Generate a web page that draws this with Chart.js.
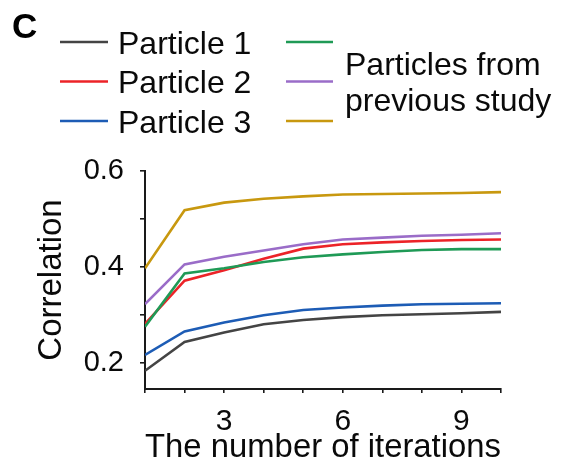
<!DOCTYPE html>
<html>
<head>
<meta charset="utf-8">
<script src="https://cdn.jsdelivr.net/npm/chart.js@4/dist/chart.umd.min.js"></script>
<style>
  html, body { margin: 0; padding: 0; background: #ffffff; }
  canvas { display: block; }
</style>
</head>
<body>
<canvas id="c" width="575" height="464"></canvas>
<script>
// ---- data ----
const iterations = [1, 2, 3, 4, 5, 6, 7, 8, 9, 10];
const particle1 = [0.183, 0.243, 0.263, 0.280, 0.289, 0.295, 0.299, 0.301, 0.303, 0.306];
const particle2 = [0.281, 0.371, 0.393, 0.417, 0.438, 0.447, 0.451, 0.454, 0.456, 0.457];
const particle3 = [0.216, 0.265, 0.284, 0.299, 0.310, 0.315, 0.319, 0.322, 0.323, 0.324];
const previousGreen  = [0.275, 0.386, 0.397, 0.410, 0.420, 0.426, 0.431, 0.435, 0.437, 0.437];
const previousPurple = [0.322, 0.405, 0.421, 0.434, 0.447, 0.457, 0.461, 0.465, 0.467, 0.470];
const previousGold   = [0.397, 0.518, 0.534, 0.542, 0.547, 0.551, 0.552, 0.553, 0.554, 0.556];

const xTickValues = [1, 2, 3, 4, 5, 6, 7, 8, 9, 10];
const xTickLabels = [3, 6, 9];
const yTickValues = [0.2, 0.3, 0.4, 0.5, 0.6];
const yTickLabels = [0.2, 0.4, 0.6];

const seriesNames = ['Particle 1', 'Particle 2', 'Particle 3'];
const previousLabel = ['Particles from', 'previous study'];
const panelLetter = 'C';
const xTitle = 'The number of iterations';
const yTitle = 'Correlation';

const colors = {
  p1: '#444444', p2: '#ec2328', p3: '#1d5cb5',
  green: '#1f9a56', purple: '#9a6cc8', gold: '#c8980f'
};

const FONT = "'Liberation Sans', Arial, Helvetica, sans-serif";
const INK = '#0a0a0a';

function pts(arr) { return iterations.map((x, i) => ({ x: x, y: arr[i] })); }

const datasets = [
  { label: 'gold', data: pts(previousGold), borderColor: colors.gold },
  { label: 'purple', data: pts(previousPurple), borderColor: colors.purple },
  { label: 'green', data: pts(previousGreen), borderColor: colors.green },
  { label: seriesNames[1], data: pts(particle2), borderColor: colors.p2 },
  { label: seriesNames[2], data: pts(particle3), borderColor: colors.p3 },
  { label: seriesNames[0], data: pts(particle1), borderColor: colors.p1 }
].map(d => Object.assign(d, { borderWidth: 2.6, pointRadius: 0, tension: 0, fill: false }));

const legendPlugin = {
  id: 'figLegend',
  afterDraw(chart) {
    const ctx = chart.ctx;
    ctx.save();
    // panel letter
    ctx.fillStyle = '#000';
    ctx.font = "bold 35px " + FONT;
    ctx.textBaseline = 'alphabetic';
    ctx.textAlign = 'left';
    ctx.fillText(panelLetter, 12, 38);

    const rowBase = [53.5, 93, 132.5];
    const leftColors = [colors.p1, colors.p2, colors.p3];
    const rightColors = [colors.green, colors.purple, colors.gold];
    ctx.lineWidth = 2.6;
    for (let i = 0; i < 3; i++) {
      const ly = rowBase[i] - 11.5;
      ctx.strokeStyle = leftColors[i];
      ctx.beginPath(); ctx.moveTo(60, ly); ctx.lineTo(108, ly); ctx.stroke();
      ctx.strokeStyle = rightColors[i];
      ctx.beginPath(); ctx.moveTo(286, ly); ctx.lineTo(333, ly); ctx.stroke();
    }
    ctx.fillStyle = INK;
    ctx.font = "32px " + FONT;
    for (let i = 0; i < 3; i++) {
      ctx.fillText(seriesNames[i], 118, rowBase[i]);
    }
    ctx.fillText(previousLabel[0], 345, 74.5);
    ctx.fillText(previousLabel[1], 345, 111);
    ctx.restore();
  }
};

new Chart(document.getElementById('c'), {
  type: 'line',
  data: { datasets: datasets },
  plugins: [legendPlugin],
  options: {
    responsive: false,
    animation: false,
    layout: { padding: { left: 0, top: 171, right: 74, bottom: 0 } },
    plugins: { legend: { display: false }, tooltip: { enabled: false }, title: { display: false } },
    scales: {
      x: {
        type: 'linear',
        min: 1, max: 10,
        afterBuildTicks: (s) => { s.ticks = xTickValues.map(v => ({ value: v })); },
        afterFit: (s) => { s.height = 75; },
        ticks: {
          autoSkip: false,
          maxRotation: 0,
          padding: 11,
          color: INK,
          font: { family: FONT, size: 30 },
          callback: (v) => xTickLabels.includes(v) ? String(v) : ''
        },
        grid: { display: true, drawOnChartArea: false, drawTicks: true, tickLength: 4, color: '#1a1a1a', lineWidth: 1.6 },
        border: { display: true, color: '#1a1a1a', width: 2 },
        title: { display: true, text: xTitle, color: INK, font: { family: FONT, size: 33 }, padding: { top: 0, bottom: -4 } }
      },
      y: {
        type: 'linear',
        min: 0.145, max: 0.6,
        afterBuildTicks: (s) => { s.ticks = yTickValues.map(v => ({ value: v })); },
        afterFit: (s) => { s.width = 145; },
        ticks: {
          autoSkip: false,
          padding: 16,
          color: INK,
          font: { family: FONT, size: 29 },
          callback: (v) => yTickLabels.some(t => Math.abs(t - v) < 1e-9) ? v.toFixed(1) : ''
        },
        grid: { display: true, drawOnChartArea: false, drawTicks: true, tickLength: 5, color: '#1a1a1a', lineWidth: 1.6 },
        border: { display: true, color: '#1a1a1a', width: 2 },
        title: { display: true, text: yTitle, color: INK, font: { family: FONT, size: 33 }, padding: { top: 32, bottom: 0 } }
      }
    }
  }
});
</script>
</body>
</html>
